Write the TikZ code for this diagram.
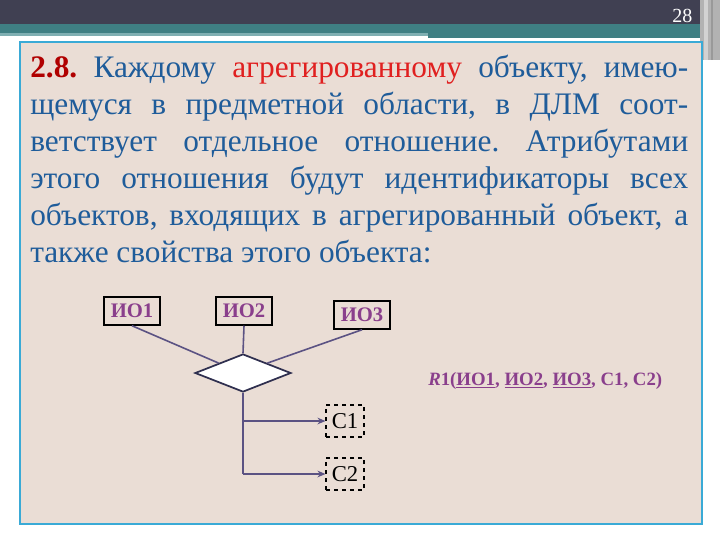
\documentclass[tikz,border=0pt]{standalone}
\usepackage{fontspec}
\setmainfont{Liberation Serif}
\usetikzlibrary{shapes.geometric,arrows.meta}
\definecolor{barbg}{HTML}{404052}
\definecolor{teal1}{HTML}{3F7F83}
\definecolor{teal2}{HTML}{7FAFB2}
\definecolor{boxbg}{HTML}{EADDD5}
\definecolor{boxline}{HTML}{3AAAD6}
\definecolor{txtblue}{HTML}{1F5C9A}
\definecolor{txtred}{HTML}{E02020}
\definecolor{numred}{HTML}{B00000}
\definecolor{iopurple}{HTML}{8A3F8C}
\definecolor{conn}{HTML}{5B5283}
\definecolor{dmd}{HTML}{2F2F4F}
\tikzset{
  iobox/.style={draw=black, line width=1.1pt, fill=boxbg, minimum width=42pt, minimum height=21pt, inner sep=0pt, font=\fontsize{15.5pt}{17pt}\selectfont\bfseries, text=iopurple},
  cbox/.style={draw=black, dashed, line width=0.8pt, fill=boxbg, minimum width=28.5pt, minimum height=24pt, inner sep=0pt, font=\fontsize{17pt}{19pt}\selectfont},
  conline/.style={draw=conn, line width=1.2pt},
  arr/.style={conline, -{Stealth[length=6pt,width=5pt]}}
}
\begin{document}
\frenchspacing
\begin{tikzpicture}[x=0.75pt,y=-0.75pt]
\useasboundingbox (0,0) rectangle (720,540);
\fill[white] (0,0) rectangle (720,540);
% top bar
\fill[barbg] (0,0) rectangle (720,25);
\fill[teal1] (0,24) rectangle (700,33);
\fill[teal2] (0,33) rectangle (428,36);
\fill[teal1] (428,33) rectangle (700,38);
\fill[gray!60] (700,0) rectangle (720,60);
\fill[gray!35] (704,0) rectangle (708,60);
\fill[gray!80] (711,0) rectangle (713,60);
\node[text=white, font=\fontsize{15pt}{17pt}\selectfont, anchor=east] (pg) at (697,16) {28};
% main box
\draw[boxline, line width=2.2pt, fill=boxbg] (20,42) rectangle (702,524);
% paragraph
\node[anchor=north west, inner sep=0pt, text width=493.5pt, align=justify, text=txtblue,
  font=\fontsize{23.5pt}{27.75pt}\selectfont] (para) at (30,55)
{{\color{numred}\bfseries 2.8.} Каждому {\color{txtred}агрегированному} объекту, имею-\linebreak
щемуся в предметной области, в ДЛМ соот-\linebreak
ветствует отдельное отношение. Атрибутами\linebreak
этого отношения будут идентификаторы всех\linebreak
объектов, входящих в агрегированный объект, а\linebreak
также свойства этого объекта:};
% diagram
\node[iobox] (io1) at (132,311) {ИО1};
\node[iobox] (io2) at (244,311) {ИО2};
\node[iobox] (io3) at (362,315) {ИО3};
\node[diamond, draw=dmd, line width=1.3pt, fill=white, minimum width=72pt, minimum height=28.5pt, inner sep=0pt, aspect=2.5] (d) at (243,373) {};
\draw[conline] (io1.south) -- (d.north west);
\draw[conline] (io2.south) -- (d.north);
\draw[conline] (io3.south) -- (d.north east);
\node[cbox] (c1) at (345,421) {С1};
\node[cbox] (c2) at (345,474) {С2};
\draw[conline] (d.south) -- (d.south |- c2.west);
\draw[arr] (d.south |- c1.west) -- (c1.west);
\draw[arr] (d.south |- c2.west) -- (c2.west);
\node[anchor=west, text=iopurple, font=\fontsize{14.1pt}{17pt}\selectfont\bfseries, inner sep=0pt] (rel) at (428,381)
{\textit{R}1(\underline{ИО1}, \underline{ИО2}, \underline{ИО3}, С1, С2)};
\end{tikzpicture}
\end{document}
